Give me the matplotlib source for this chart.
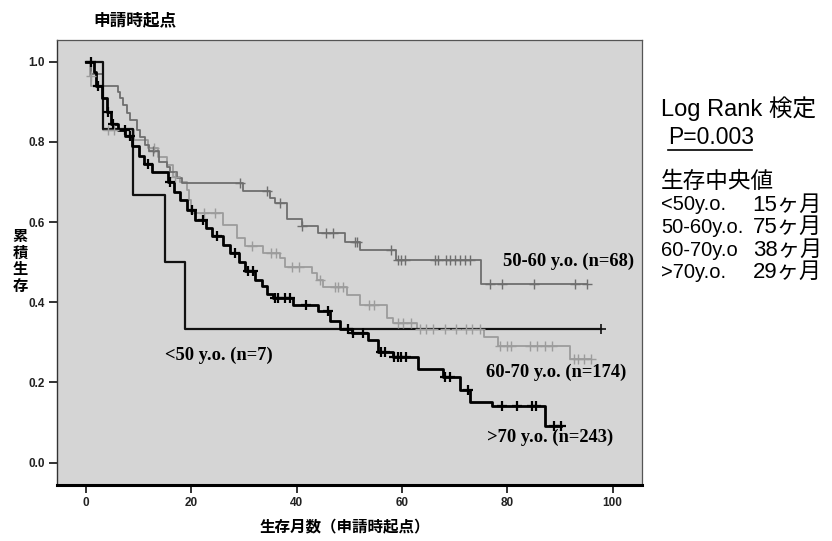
import numpy as np
import matplotlib
matplotlib.use("Agg")
import matplotlib.pyplot as plt
from matplotlib import font_manager
from matplotlib.lines import Line2D

# Kaplan-Meier step data (time in months, survival after the step)
under50_t = [0, 3.2, 9.0, 15.1, 18.9]
under50_s = [1.0, 0.833, 0.667, 0.5, 0.333]
under50_end = 97.9
under50_cens = [0.9, 97.9]

g5060_t = [0, 1.0, 3.3, 6.1, 6.5, 7.1, 7.7, 8.4, 9.6, 10.2, 11.2, 12.0, 13.8, 15.4, 16.0,
           17.2, 18.3, 29.9, 35.0, 35.9, 38.1, 41.0, 44.1, 49.2, 52.0, 58.8, 75.0]
g5060_s = [1.0, 0.97, 0.94, 0.925, 0.909, 0.892, 0.871, 0.855, 0.83, 0.813, 0.792, 0.776, 0.75,
           0.738, 0.725, 0.71, 0.697, 0.678, 0.661, 0.647, 0.608, 0.589, 0.572, 0.55, 0.529,
           0.505, 0.445]
g5060_end = 95.1
g5060_cens = [12.8, 29.3, 34.3, 36.8, 41.0, 45.6, 46.9, 51.0, 51.4, 58.0, 59.2, 59.8, 60.5,
              66.2, 66.8, 68.4, 69.1, 70.1, 71.0, 72.0, 72.9, 76.7, 79.0, 85.0, 92.9, 95.1]

g6070_t = [0, 0.8, 1.0, 3.3, 9.2, 11.8, 13.7, 15.3, 16.6, 17.9, 19.1, 19.5, 20.0, 26.1, 28.6,
           30.2, 33.7, 36.9, 37.8, 42.9, 43.8, 45.1, 49.5, 52.0, 57.1, 58.4, 62.8, 75.6, 78.3,
           91.9]
g6070_s = [1.0, 0.965, 0.94, 0.83, 0.805, 0.784, 0.763, 0.742, 0.713, 0.70, 0.68, 0.655, 0.622,
           0.593, 0.56, 0.539, 0.522, 0.51, 0.489, 0.472, 0.456, 0.437, 0.418, 0.393, 0.361,
           0.348, 0.333, 0.312, 0.291, 0.258]
g6070_end = 96.0
g6070_cens = [0.9, 4.2, 5.4, 13.0, 17.0, 22.5, 24.5, 31.5, 35.2, 36.0, 39.2, 40.5, 44.5, 47.3,
              47.9, 48.8, 53.7, 54.7, 59.2, 60.2, 61.7, 63.5, 64.5, 66.0, 68.2, 70.2, 72.1,
              73.4, 74.9, 78.6, 79.9, 80.8, 84.4, 85.6, 87.2, 88.5, 92.6, 93.5, 94.5, 96.0]

over70_t = [0, 1.5, 2.0, 3.0, 4.0, 4.8, 6.0, 7.5, 8.8, 10.0, 11.0, 12.5, 15.5, 16.8, 17.8, 19.2,
            20.8, 22.8, 24.0, 26.0, 27.3, 29.0, 30.2, 32.1, 33.5, 34.3, 35.5, 39.4, 44.1, 46.3,
            48.2, 50.5, 53.6, 55.5, 58.4, 63.1, 67.9, 71.0, 72.9, 77.1, 87.2]
over70_s = [1.0, 0.975, 0.94, 0.91, 0.875, 0.845, 0.83, 0.815, 0.79, 0.765, 0.745, 0.725, 0.7,
            0.675, 0.655, 0.63, 0.605, 0.585, 0.565, 0.543, 0.522, 0.5, 0.478, 0.456, 0.44,
            0.42, 0.41, 0.393, 0.377, 0.352, 0.333, 0.323, 0.306, 0.277, 0.264, 0.234, 0.213,
            0.181, 0.152, 0.14, 0.092]
over70_end = 90.3
over70_cens = [0.9, 2.2, 4.2, 5.2, 7.4, 8.4, 11.8, 16.0, 20.1, 22.3, 24.8, 28.3, 30.8, 31.8,
               35.9, 36.5, 37.8, 38.7, 41.7, 46.0, 49.8, 50.8, 52.6, 56.0, 56.7, 58.5, 59.2,
               59.9, 60.8, 68.2, 69.1, 72.5, 79.1, 81.9, 84.7, 85.4, 88.8, 90.3]

group_labels = ["<50 y.o. (n=7)", "50-60 y.o. (n=68)", "60-70 y.o. (n=174)", ">70 y.o. (n=243)"]
median_groups = ["<50y.o.", "50-60y.o.", "60-70y.o", ">70y.o."]
median_values = ["15ヶ月", "75ヶ月", "38ヶ月", "29ヶ月"]


def pick(*names):
    have = {f.name for f in font_manager.fontManager.ttflist}
    return [n for n in names if n in have] or ["DejaVu Sans"]


SANS = pick("Liberation Sans", "Arial", "DejaVu Sans") + pick("Noto Sans CJK JP")
NARROW = pick("Liberation Sans Narrow", "Liberation Sans", "DejaVu Sans")
SERIF = pick("Liberation Serif", "DejaVu Serif")
CJK = pick("Noto Sans CJK JP") + ["DejaVu Sans"]


def km(ax, t, s, end, cens, color, lw, mew):
    tt = list(t) + [end]
    ss = list(s) + [s[-1]]
    ax.step(tt, ss, where="post", color=color, lw=lw, zorder=3)
    idx = np.searchsorted(np.array(t), np.array(cens), side="right") - 1
    cs = np.array(s)[idx]
    ax.plot(cens, cs, ls="none", marker="+", ms=7, mew=mew, color=color, zorder=4)


fig = plt.figure(figsize=(8.32, 5.41), dpi=100)
ax = fig.add_axes([57 / 832, 1 - 485 / 541, (642 - 57) / 832, (485 - 40) / 541])
ax.set_facecolor("#d5d5d5")

km(ax, g6070_t, g6070_s, g6070_end, g6070_cens, "#9c9c9c", 1.3, 1.0)
km(ax, g5060_t, g5060_s, g5060_end, g5060_cens, "#6e6e6e", 1.3, 1.0)
km(ax, under50_t, under50_s, under50_end, under50_cens, "#111111", 1.6, 1.2)
km(ax, over70_t, over70_s, over70_end, over70_cens, "#000000", 2.0, 1.6)

ax.set_xlim(-5.5, 105.6)
ax.set_ylim(-0.056, 1.054)
ax.set_xticks([0, 20, 40, 60, 80, 100])
ax.set_yticks([0.0, 0.2, 0.4, 0.6, 0.8, 1.0])
ax.set_yticklabels(["0.0", "0.2", "0.4", "0.6", "0.8", "1.0"])
ax.tick_params(direction="out", length=6, width=1.3, color="#222222", pad=3)
for lab in ax.get_xticklabels() + ax.get_yticklabels():
    lab.set_family(NARROW)
    lab.set_fontsize(8.5)
    lab.set_fontweight("bold")
    lab.set_color("#222222")

for side in ["top", "right"]:
    ax.spines[side].set_color("#555555")
    ax.spines[side].set_linewidth(0.9)
ax.spines["left"].set_color("#333333")
ax.spines["left"].set_linewidth(1.0)
ax.spines["bottom"].set_color("#000000")
ax.spines["bottom"].set_linewidth(2.2)

# curve labels
label_style = dict(family=SERIF, fontsize=13.3, fontweight="bold", va="center", ha="left")
ax.text(15.0, 0.268, group_labels[0], **label_style)
ax.text(79.2, 0.502, group_labels[1], **label_style)
ax.text(75.9, 0.224, group_labels[2], **label_style)
ax.text(76.1, 0.062, group_labels[3], **label_style)

# titles / axis labels
fig.text(135 / 832, 1 - 20 / 541, "申請時起点", family=CJK, fontsize=12, fontweight="bold",
         ha="center", va="center")
fig.text(20 / 832, 1 - 261 / 541, "累\n積\n生\n存", family=CJK, fontsize=11, fontweight="bold",
         ha="center", va="center", linespacing=1.05)
fig.text(345 / 832, 1 - 526 / 541, "生存月数（申請時起点）", family=CJK, fontsize=11.2,
         fontweight="bold", ha="center", va="center")

# right side annotation
fig.text(661 / 832, 1 - 109 / 541, "Log Rank 検定", family=SANS, fontsize=17,
         ha="left", va="center")
fig.text(668 / 832, 1 - 137 / 541, "P=0.003", family=SANS, fontsize=16.5, ha="left", va="center")
fig.add_artist(Line2D([668 / 832, 752 / 832], [1 - 150 / 541, 1 - 150 / 541],
                      transform=fig.transFigure, color="black", lw=1.2))
fig.text(661 / 832, 1 - 181 / 541, "生存中央値", family=CJK, fontsize=16.3, ha="left", va="center")
for i, (g, v) in enumerate(zip(median_groups, median_values)):
    y = 1 - (205 + 22.5 * i) / 541
    fig.text(661 / 832, y, g, family=SANS, fontsize=14.5, ha="left", va="center")
    fig.text(822 / 832, y, v, family=SANS, fontsize=16, ha="right", va="center")

fig.savefig("out.png", dpi=100)
